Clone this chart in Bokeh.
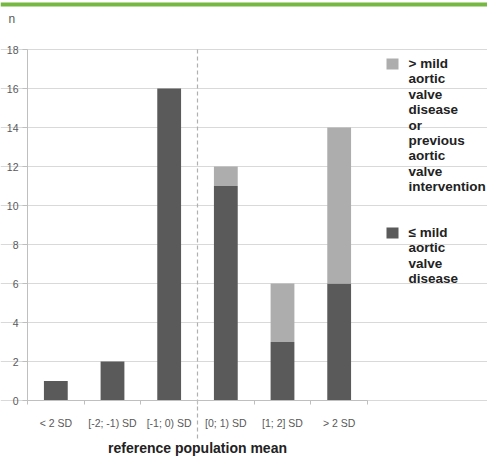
from bokeh.plotting import figure
from bokeh.models import Range1d, FixedTicker, Label, BoxAnnotation, ColumnDataSource
from bokeh.embed import file_html
from bokeh.resources import INLINE

# Data: patient counts per z-score class
categories = ["< 2 SD", "[-2; -1) SD", "[-1; 0) SD", "[0; 1) SD", "[1; 2] SD", "> 2 SD"]
mild_or_less = [1, 2, 16, 11, 3, 6]
more_than_mild = [0, 0, 0, 1, 3, 8]
y_ticks = [0, 2, 4, 6, 8, 10, 12, 14, 16, 18]

DARK = "#5a5a5a"
LIGHT = "#adadad"
TEXT = "#222222"
AXIS_TEXT = "#595959"
AXIS_LINE = "#bfbfbf"

# canvas size and the pixel box that holds the bars
W, H = 487, 458
LEFT, RIGHT, TOP, BOTTOM = 27, 367, 49, 400
XMAX, YMAX = len(categories), 18


def dx(px):
    """Canvas x pixel -> data x."""
    return (px - LEFT) / (RIGHT - LEFT) * XMAX


def dy(py):
    """Canvas y pixel -> data y."""
    return (BOTTOM - py) / (BOTTOM - TOP) * YMAX


# the frame fills the whole canvas; axes sit at fixed data locations inside it
p = figure(width=W, height=H, output_backend="svg", toolbar_location=None,
           title=None,
           x_range=Range1d(dx(0), dx(W)), y_range=Range1d(dy(H), dy(0)),
           min_border=0)
p.outline_line_color = None
p.background_fill_color = "white"
p.border_fill_color = "white"

centers = [i + 0.5 for i in range(len(categories))]
src = ColumnDataSource(dict(x=centers, low=mild_or_less, high=more_than_mild))
p.vbar_stack(["low", "high"], x="x", width=0.42, source=src,
             color=[DARK, LIGHT], line_color=None)

# grid
p.xgrid.visible = False
p.ygrid.grid_line_color = "#d9d9d9"
p.ygrid.grid_line_width = 1
p.ygrid.ticker = FixedTicker(ticks=y_ticks)
p.ygrid.bounds = (0, XMAX)

# y axis
p.yaxis.fixed_location = 0
p.yaxis.bounds = (0, YMAX)
p.yaxis.ticker = FixedTicker(ticks=y_ticks)
p.yaxis.axis_line_color = AXIS_LINE
p.yaxis.major_tick_line_color = AXIS_LINE
p.yaxis.major_tick_out = 5
p.yaxis.major_tick_in = 0
p.yaxis.minor_tick_line_color = None
p.yaxis.major_label_standoff = 4
p.yaxis.major_label_text_font = "Liberation Sans"
p.yaxis.major_label_text_font_size = "10.5px"
p.yaxis.major_label_text_color = AXIS_TEXT

# x axis: labels at class centres, tick marks at class boundaries
p.xaxis.fixed_location = 0
p.xaxis.bounds = (0, XMAX)
p.xaxis.ticker = FixedTicker(ticks=centers, minor_ticks=list(range(XMAX + 1)))
p.xaxis.major_label_overrides = {c: lab for c, lab in zip(centers, categories)}
p.xaxis.axis_line_color = AXIS_LINE
p.xaxis.major_tick_line_color = None
p.xaxis.minor_tick_line_color = AXIS_LINE
p.xaxis.minor_tick_out = 4
p.xaxis.minor_tick_in = 0
p.xaxis.major_label_standoff = 10
p.xaxis.major_label_text_font = "Liberation Sans"
p.xaxis.major_label_text_font_size = "10.5px"
p.xaxis.major_label_text_color = AXIS_TEXT

# reference population mean divider
p.segment(x0=[3], y0=[YMAX], x1=[3], y1=[dy(438)],
          line_color="#b0b0b0", line_width=1.2, line_dash="4 3")
p.add_layout(Label(x=3, y=dy(447), text="reference population mean",
                   text_align="center", text_baseline="middle",
                   text_font="Liberation Sans", text_font_style="bold",
                   text_font_size="14px", text_color=TEXT))

# y-axis unit
p.add_layout(Label(x=dx(8), y=dy(18), text="n", text_align="left",
                   text_baseline="middle", text_font="Liberation Sans",
                   text_font_size="12px", text_color=AXIS_TEXT))

# green header rule
p.add_layout(BoxAnnotation(left=dx(0), right=dx(W), top=dy(2), bottom=dy(6),
                           fill_color="#77b843", fill_alpha=1, line_color=None))

# legend
legend_items = [
    (LIGHT, 58, ["> mild", "aortic", "valve", "disease", "or", "previous",
                 "aortic", "valve", "intervention"]),
    (DARK, 227, ["\u2264 mild", "aortic", "valve", "disease"]),
]
for color, top_px, lines in legend_items:
    p.add_layout(BoxAnnotation(left=dx(386), right=dx(398), top=dy(top_px),
                               bottom=dy(top_px + 11), fill_color=color,
                               fill_alpha=1, line_color=None))
    for k, line in enumerate(lines):
        p.add_layout(Label(x=dx(408), y=dy(top_px + 5 + 15.4 * k), text=line,
                           text_align="left", text_baseline="middle",
                           text_font="Liberation Sans", text_font_style="bold",
                           text_font_size="13.5px", text_color=TEXT))

open("out.html", "w").write(file_html(p, INLINE))
